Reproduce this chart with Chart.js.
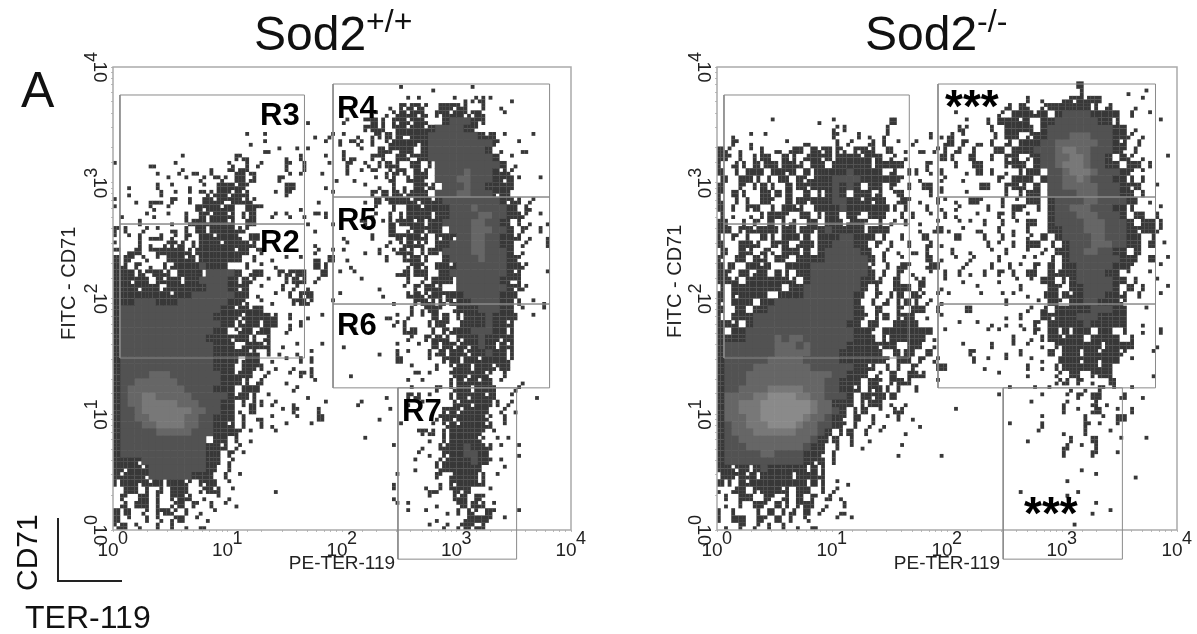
<!DOCTYPE html>
<html>
<head>
<meta charset="utf-8">
<title>Sod2 flow cytometry</title>
<script src="https://cdn.jsdelivr.net/npm/chart.js@4"></script>
<style>
  body { margin: 0; background: #fff; font-family: "Liberation Sans", Arial, sans-serif; color: #111; }
  #page { position: relative; width: 1197px; height: 634px; overflow: hidden; }
  canvas { position: absolute; top: 0; filter: blur(0.35px); }
  .txt { position: absolute; white-space: nowrap; line-height: 1; }
  .title { font-size: 48px; }
  .title sup { font-size: 32px; vertical-align: 18px; line-height: 0; }
  .rlabel { font-size: 31px; font-weight: bold; color: #000; }
  .stars { font-size: 46px; font-weight: bold; color: #000; }
  .ytitle { font-size: 20px; color: #222; transform: rotate(-90deg); transform-origin: left top; }
</style>
</head>
<body>
<div id="page">
  <canvas id="plotWild" style="left:0" width="600" height="634"></canvas>
  <canvas id="plotKnockout" style="left:600px" width="597" height="634"></canvas>

  <div class="txt title" style="left:254px;top:10px">Sod2<sup>+/+</sup></div>
  <div class="txt title" style="left:865px;top:10px">Sod2<sup>-/-</sup></div>
  <div class="txt" style="left:21px;top:65px;font-size:50px">A</div>

  <div class="txt ytitle" style="left:58px;top:340px">FITC - CD71</div>
  <div class="txt ytitle" style="left:664px;top:338px">FITC - CD71</div>

  <div class="txt rlabel" style="left:260px;top:99px">R3</div>
  <div class="txt rlabel" style="left:260px;top:226px">R2</div>
  <div class="txt rlabel" style="left:337px;top:92px">R4</div>
  <div class="txt rlabel" style="left:337px;top:204px">R5</div>
  <div class="txt rlabel" style="left:337px;top:309px">R6</div>
  <div class="txt rlabel" style="left:402px;top:395px">R7</div>

  <div class="txt stars" style="left:945px;top:83px">***</div>
  <div class="txt stars" style="left:1024px;top:490px">***</div>

  <div class="txt" style="left:12px;top:591px;font-size:30px;transform:rotate(-90deg);transform-origin:left top">CD71</div>
  <div class="txt" style="left:25px;top:601px;font-size:32px">TER-119</div>
  <div style="position:absolute;left:57px;top:518px;width:63px;height:62px;border-left:2px solid #222;border-bottom:2px solid #222"></div>
</div>

<script>
// axis decades
const decades = [1, 10, 100, 1000, 10000];
const exponents = ['0', '1', '2', '3', '4'];

// gate edges (same gates on both)
const gateR3 = [[1.15, 440], [47, 5730]];
const gateR2 = [[1.15, 30.6], [47, 440]];
const gateR4 = [[83.5, 753], [6500, 7130]];
const gateR5 = [[83.5, 89.6], [6500, 753]];
const gateR6 = [[83.5, 16.9], [6500, 89.6]];
const gateR7 = [[308, 0.56], [3350, 16.9]];

// Density, 64 x 64 bins, top row first, left half and right half of each plot.
// '.' empty, hex digit = which of the 4 sub-bins hold an event (1 TL, 2 TR, 4 BL, 8 BR),
// g m l n = gray levels of the density shading
const wildLow = [
  "", "", "", "", "", "", "",
  "...........................4....",
  "",
  "..................2..1......4.6.",
  "...................4.1.......2.A",
  ".....................C.1.2.1....",
  ".........2.......7C.....4.5..2..",
  "1....C..2.......9.A.6...7.A...1.",
  "......4..6.C.A..3E7C....9.6..4..",
  ".......2..1.6.36.F5E...7.......4",
  "..4...5.1.8.2.AFFE7.....F5...8..",
  "..4...A.2.2.36EF9FE...2.7.....2.",
  "1..4.CC.7.A.AFE7BFE6........8...",
  "1....9.2...A7FFEF.AF3.....4.....",
  ".4..28.2..5.F9FFE.5F..6.9.8.3A..",
  "...A....4.9FFEFFE.AF.......4..8.",
  "7A..6.1.C.5AFAFFFE6.........4...",
  "1.1A.CE.6.7.FFEFFD.F5...........",
  "1..A.4.67E.5FFFEFFFE........4...",
  "3.CF.3FFFFEAFFFFFEF.B.......6.2.",
  "FA7.9.1AFFE5FFFFFF.A..4.1.1.C.F.",
  "FE.7.4.5EFFFgFFF..A.2.8.....FA..",
  "FFFA6BFE.FFF5ggggF.EF..7EBF..F.2",
  "FF7FF.FEF5FFggggF5F6.2..5FE.6...",
  "FFF7FF5EFFFFFgggF7F.2..A.6.4....",
  "FFFFFFFFEFFggggggFF.4.2.A.7F...2",
  "FFFgggFFFgggggggFF9.2.4..7F6..2.",
  "FggggggggggggggFFEFEF...........",
  "FgggggggggggggFFF7EFFFE.A..4.1..",
  "FggggggggggggggFFAEF5FF.8.5.....",
  "FgggggggggggggFF.9F5EF..6.......",
  "FggggggggggggFFF7FFA.E..........",
  "FgggggggggggggFFF.EFFE.8.2...1..",
  "FgggggggggggggFFFFFE4A.4.8.2....",
  "FgggggggggggggFFF5EF5.4.1.5A....",
  "FgggggggggggggFFF.FFB.8..4.8....",
  "FggggmmmgggggggFFEF5.6..2.7A....",
  "FggmmmmmmggggggFFFA.E...4...1...",
  "FgmmmmmmmmggggFFF.FF5....6......",
  "FgmmllmmmmmgggggFEFA.2.....4....",
  "FgmmlllllmmmgggFF.5EA.6..4...2..",
  "FggmlllllllmmggFF8.F...2.7..A...",
  "FggmmlllllmmggFFF.5.C.1..2..A5..",
  "FgggmmllllmmggFFE.5.A.4.1..2....",
  "FgggggmmmmmgggFFF7.1..2.........",
  "Fgggggggggggg.FF.5.4............",
  "FggggggggggggFFE.6..............",
  "FggggggggggggFF.7.1.............",
  "FFF7gggggggggFF.6...............",
  "F7FFEggggggggF5.5...............",
  "FEFF7ggggggFFF.A.2..............",
  "5FF7FEFAFF6.7F5.1...............",
  ".AF5A.E.FF5.6FE.2.....8.........",
  ".7.AF.5.7FE.8.2.4...............",
  ".E.FF.5.6F.7.A.2.4..............",
  "FA5.6.7F6.5.4.1.................",
  "F.1.A.9.6F.2.4..................",
  "9F.9..5.5.4.C..................."
];
const wildHigh = [
  "", "",
  "........4.........4.............",
  "............2...................",
  ".........12....2.46E2..8........",
  "......8.7EB6.AF7D5.A..4.........",
  "....2.49FE7D.7FEF9BD..2.........",
  "6..3FA.7F6FD..FgggFB............",
  "...7FE.BFEFDFggggF7.............",
  "1.4.65FA7BFFgggggggFE52...2.....",
  ".36.5.9FFF7Fggggggggg7..2.......",
  "4.2..FE3FF.FggggggggF.4..C......",
  "5C..7B.AF6BFgggggggggF.2........",
  "A1.9.5FE.AF.5gggggggggF.4.......",
  "A.2.3.6EB.FE.ggggmgggFE6........",
  ".8..2.95.DF7.gggmmgggF7F2..2....",
  "...1.4.58.F7E.gggmggFFFF........",
  "....7A5F6EFF.gggmmggg7F5........",
  "...4A5BFFD7FDFggggggggFBE.6.....",
  "....2..5.FFEFFFgggmggggF5A4.....",
  "....6.A.5FFF5FFggggmmggFF6.2....",
  "..25.2A6FFE5FFggggmmggF5A.4.8...",
  "...2..A5.6F7FF.gggmmmggF.7.A....",
  "4...5.2B7FFE.7F7ggmmggFFE.4.8...",
  "2.....6.9FE6.FFgggmmggFF.6..A...",
  "1..4.5.9FE.5F7ggggmmgggF.4......",
  "8.....5.AEFA..FggggmgggF7.......",
  ".4.......6F9.FFEgggggggFF6......",
  ".2.....8E5FF.AFggggggggFE...2...",
  "..2......5.6AFF5ggggggF7B.......",
  ".....4..2.7AFE..gggggggFB6......",
  ".....8...DF6EFBFFgggggFF5.......",
  ".......4..7FEA6DFFggggFFA.2.4...",
  ".........A.6F7.8FFFgggFF.1..1...",
  "......C2.6.1A5F.5FFFgFFF5.2.....",
  ".......6A...5F7.AFFFgFFE........",
  ".2......AE5.A.7EFFgggFFA........",
  ".........6.A9FE.7FFgFFBF........",
  "4......2..2.A5F7E7FgF5FE........",
  ".....4.A.1..5E5FF6FFgFFA........",
  ".......A5...1.7F5FFEFFF6........",
  ".........2...5.9FFAFF6F5........",
  ".4........3.1..BF7FF6.A.........",
  ".........1.1...5FEFEF.1..4......",
  ".........2...7.9FFAFF5..6.......",
  "......4..7E.1..5F7FFE5.2...4....",
  "..6......4.1...AEFBFFA.6........",
  "......2.......7F9FFF5.6.4.......",
  ".....4.......6F7FFFF6.A.........",
  "........1...2.9FEFFFE.2.........",
  "..........27E.5FFFF7.1..........",
  "...1........4.5FFFF6.2.1........",
  ".......1...4.AEFFgFFE.1.2.......",
  "..........2.4.7FFggF5...8.......",
  "..........1..6EFFFgF7.1.........",
  "..........4..9FFFFF5..2.........",
  ".......2.....7.EFFFA.2..........",
  ".......4.....8.7FFFE............",
  ".......1...2C6.B7F..2...........",
  ".......4....1..AE5A7............",
  ".......2.1...4..B5FE.1..........",
  ".........1.2..8.5A6.F1..2.......",
  ".............4...EFF7.2.........",
  "............1.6.6F9E............"
];
const knockoutLow = [
  "", "", "", "", "", "", "",
  ".......2......4.1.......F.......",
  "................6A.....A........",
  "..4.2.2.........7..A.4.6.....A.4",
  "..7.8....2..C...A.6..E.5.1.6...8",
  "F6.42.5.C.EF.F6FA9.7FE.A5.4.C.6A",
  "F7.5.5F5.FA.EF7FAFFFE7F.6.4....F",
  "5.EA.FAF5FFE.FF.FFFFF5FFFF...7..",
  "F.A.FF5AF7F.FAFFFFgFFFF.E.AA.9.5",
  "A5.FFA.5AF.F9EFFggggFFFFF7..4..6",
  "F..7.5FA.A5F7FFFgFgF.FF.7.A.AF.4",
  "7.FA..F5FA5.F.5FgF.FF5E.2F...A.1",
  "D.A.5.F7.A5F7FFFggFFE7F5.E7.4.A2",
  "F.5.7F.A.FFE.AFFFgFFFFFFA.5..5.4",
  "A.4.8.5FF7.AF.5FF.F7.FF5.A.5.2.A",
  "F5.A.7.F.5E.AF.FF5EF7.A.6.5.4.2.",
  "FF.7FEFF5FFAF7FgFFFF5FFF....4.E5",
  "5.7.5.FA.FF5F.FFFggFFF.5.A..A5..",
  "F..FFE.A7F.EF5FFgggFF.7.5.A..E.4",
  "A5.FE.E9.FF5F.FgggggF5.6.4.C.5..",
  "7.AF.FE.F7.FFFFggggggF.5.2...F.4",
  "FA5.FFE5.AFFFgggggggg6.A.E7..EF.",
  "F7.F5EF.FA.FFggggggggF.5.7.4.2.A",
  "FFE.FFFFFFE.FgggggggFFE.A5.2E..2",
  "A.FFFFFFF.FFggggggggF.5.AFF.7..4",
  "F.7FFFF.AFFFgggggggF5.7.5F.F6.2.",
  "7.FFF.FFgggggggggggF.A.E.5FA.6.4",
  "F.AF.FFggggggggggggF5.F..7.FF.A.",
  "5.FFFggggggggggggggF7.5F.7F5.4.1",
  "FFE.FgggggggggggggFF.F5.AFFF....",
  "F.FFgggggggggggggggFF7.FFFFFFF.2",
  "FFFFggggmgmmgggggggFFF.5FFFFF.4.",
  "FgggggggmmmgmgggggFFFF7FF.AF5.4.",
  "FgggggggmmmmmggggFFFFFF.A5F5.F..",
  "FggggggmmmmmgggggFFFFFF7.FF.7.6.",
  "FggggmmmmmmmmggggggFFE.A.5.7..AF",
  "FgggmmmmmmmmmmmmggFFF.6.F.AFE...",
  "FgggmmmmmmmmmmmggFFF.F7.7FE...2.",
  "FggmmmmlllllmmmggFFE.7FA.5.A....",
  "FmmmmllnnnnllmmgggF.F7F5F.......",
  "FmmlllnnnnnnnlmmFFF.5FF.4.4.....",
  "FmmlllnnnnnnnlmmgF.5F.2.AE......",
  "FmmmllnnnnnnlmmgF7.F.A.2.5.4....",
  "FgmmlllnnnnlmmggF7.5.6.4....4...",
  "FgmmmllllllmmmgF.5F.A.2...4.....",
  "FggmmmmmmmmmmgF5F.A..4..........",
  "FgggmmmmmmmmgFF.A.2.4....2......",
  "FgggggmmggggFF7.5........4.....4",
  "FgggggggggggF7F.5...............",
  "FF6F5FgFFFFF5FA.................",
  "AF7FE5FFFF5FFFE.................",
  "FA.FEFFFFFFF5FA.2.4.............",
  "4.EF.7FFFE.FF.A.6...............",
  ".5.FF.A7.E.F.7.E.4..............",
  ".4.5.F7.FA.7F5.4.A..............",
  "5.5..A.F.5E.F.6..C..............",
  "5.FF.A7.F.5.9...2.2.............",
  ".4.7.6.5.5.4.C.................."
];
const knockoutHigh = [
  "", "",
  "..................F.............",
  "..................A......4.2....",
  "...........5.4..C7FEF5.....1....",
  "........E.F4.6FFFFFFA.E...4.....",
  ".1.....6.FFFEF.FggggFFFF.A..1...",
  "..2..A.FFFE5.FFggggggFFA.....2..",
  ".A6...5.FFFF.FgggggggggFF.4.....",
  "E.1...A.FF.6FFgggmmmgggFF6.4....",
  "F.7.C.5.E.FFFggmmmmmmggFE.A.....",
  ".E.A..AF.FFFgggmllmmgggF7.5.....",
  "A..F..5.7F.6FggmmllmggF.F6.4..2.",
  ".5.AF...7FF.FggmlllmggFF.FF.5...",
  "..8.F.5.4.5FF.ggmlllmgggF7.1....",
  "..4....7.FFF.FggmmlmgggFFA.5....",
  "....AF..7FE.F.ggmmmmmgggF7F..1..",
  "..2.....5.5FF.ggggmmmgggFF.5....",
  ".4.F7..A.2.FF.FggggmmggggF5.4...",
  ".6...A.2.F7.A.FggmmmgggFFA...2..",
  ".4..1..7.5.1..FgggmmmgggF.F5.5..",
  ".2.1.5.A.2.F5.FggggmmmgggF.FFA..",
  "4.1.C..5.4.5..FFgggmmmgggF7FF6..",
  ".F...5.A.1.6.F.FggggmmgggFF.A...",
  ".....A.1.5.FF.A.FgggmmmggFF.F.1.",
  "A..4..1.5..1.6.FFggmmggFF.F.....",
  ".1.6...5..2.1.A.FgggggggFF5.F.2.",
  "..6...5.A.1.7.F.FFgggggFF7...2..",
  ".A.4.5.7.5.F5.FEFFggggFF.1..1...",
  "..4....4.2.2.FF.5FgggggFF.5..1..",
  "....1.....5...F7.FFggggF.F.5..2.",
  "1...2..2.1.4.AF5FEFgggFFE.A..2..",
  "........5...2.F7.FFggFFF6.......",
  "..A5.......6.E.FFFFFgggFF..2....",
  "........4.5..F7FFFgggFFFF.......",
  ".2..1.4.4.4.7.FFFFFgFFFFF..4....",
  ".....2.1..2.7.F5FAFF.FF.A..4.A..",
  ".........5.8.5FFEFF.FFFF.A......",
  "..1...5..1.1.4.7FFFFF5FFFF...4..",
  "...7....4.5...F.FF5FFEFF6...2...",
  "...A.2..1..2.4.AFF7FFBFF.2......",
  ".....4.....5.4.5FFFFFEF.........",
  ".......1...4...6.F5.7FF.....8...",
  "...............6E.7.4.A5........",
  "........2...1.1..4.4.7.1.2......",
  ".......1.....1..2.7.F5..E..4....",
  "...........2....6...E.4.........",
  ".1..............5.1.E5.2.A......",
  ".............1.....5.2.AF.......",
  "........2....5.....7.1.2........",
  "............2...4..5..2.........",
  "...........4.....5..F...1..2....",
  "................E.2.A...........",
  "................5...7..2........",
  "",
  "..................8.............",
  "....................2.....4.....",
  "................2...............",
  "..........4.......4.............",
  "................2...............",
  "....................2...........",
  "....................4.2.........",
  "",
  ".................2.............."
];

const BINS = 64;
const dotColor = '#383838';
const shades = { g: '#525252', m: '#666666', l: '#787878', n: '#8a8a8a' };

function binValue(pos) {
  return Math.pow(10, 4 * pos / BINS);
}

function buildMarks(lowRows, highRows) {
  const dots = [];
  const cells = { g: [], m: [], l: [], n: [] };
  for (let r = 0; r < BINS; r++) {
    const row = (lowRows[r] || '').padEnd(32, '.').slice(0, 32) + (highRows[r] || '').padEnd(32, '.').slice(0, 32);
    for (let c = 0; c < BINS; c++) {
      const ch = row[c];
      if (ch === '.') continue;
      if (cells[ch]) {
        cells[ch].push({ x: binValue(c + 0.5), y: binValue(BINS - r - 0.5) });
        continue;
      }
      const bits = parseInt(ch, 16);
      if (bits & 1) dots.push({ x: binValue(c + 0.25), y: binValue(BINS - r - 0.25) });
      if (bits & 2) dots.push({ x: binValue(c + 0.75), y: binValue(BINS - r - 0.25) });
      if (bits & 4) dots.push({ x: binValue(c + 0.25), y: binValue(BINS - r - 0.75) });
      if (bits & 8) dots.push({ x: binValue(c + 0.75), y: binValue(BINS - r - 0.75) });
    }
  }
  return { dots, cells };
}

function gateDataset(gate, color) {
  const [[x0, y0], [x1, y1]] = gate;
  return {
    data: [{ x: x0, y: y0 }, { x: x1, y: y0 }, { x: x1, y: y1 }, { x: x0, y: y1 }, { x: x0, y: y0 }],
    showLine: true, pointRadius: 0, borderColor: color, borderWidth: 1, clip: false
  };
}

// exponents of the decade labels, placed from the library's own scales
const exponentPlugin = {
  id: 'exponents',
  afterDraw(chart) {
    const ctx = chart.ctx;
    const { x, y } = chart.scales;
    ctx.save();
    ctx.fillStyle = '#222';
    ctx.font = '18px "Liberation Sans"';
    ctx.textAlign = 'center';
    ctx.textBaseline = 'middle';
    decades.forEach((v, i) => {
      ctx.fillText(exponents[i], x.getPixelForValue(v) + 10, y.bottom + 9);
      ctx.save();
      ctx.translate(x.left - 21, y.getPixelForValue(v) - 10);
      ctx.rotate(-Math.PI / 2);
      ctx.fillText(exponents[i], 0, 0);
      ctx.restore();
    });
    ctx.restore();
  }
};

function renderPlot(id, lowRows, highRows, paddingLeft, paddingRight) {
  const marks = buildMarks(lowRows, highRows);
  const axisTicks = {
    autoSkip: false,
    color: '#222',
    font: { size: 19, family: '"Liberation Sans"' },
    callback: v => decades.includes(v) ? '10' : ''
  };
  const axisGrid = { drawOnChartArea: false, tickLength: 2, color: '#bbb' };
  const datasets = [
    gateDataset(gateR3, '#8a8a8a'),
    gateDataset(gateR2, '#8a8a8a'),
    gateDataset(gateR4, '#8a8a8a'),
    gateDataset(gateR5, '#8a8a8a'),
    gateDataset(gateR6, '#8a8a8a'),
    gateDataset(gateR7, '#8a8a8a'),
    {
      data: [{ x: 1, y: 1 }, { x: 10000, y: 1 }, { x: 10000, y: 10000 }, { x: 1, y: 10000 }, { x: 1, y: 1 }],
      showLine: true, pointRadius: 0, borderColor: '#ababab', borderWidth: 1.5, clip: false
    },
    { data: marks.dots, backgroundColor: dotColor, borderWidth: 0, pointStyle: 'rect', pointRadius: 2.7 }
  ];
  Object.keys(shades).forEach(k => {
    datasets.push({ data: marks.cells[k], backgroundColor: shades[k], borderWidth: 0, pointStyle: 'rect', pointRadius: 5.5 });
  });
  return new Chart(document.getElementById(id), {
    type: 'scatter',
    data: { datasets: datasets },
    plugins: [exponentPlugin],
    options: {
      responsive: false,
      animation: false,
      events: [],
      layout: { padding: { left: paddingLeft, right: paddingRight, top: 67, bottom: 59 } },
      plugins: { legend: { display: false }, tooltip: { enabled: false } },
      scales: {
        x: {
          type: 'logarithmic', min: 1, max: 10000,
          afterFit: s => { s.height = 45; },
          grid: axisGrid,
          border: { display: false },
          ticks: Object.assign({}, axisTicks, { maxRotation: 0, minRotation: 0, padding: 7, labelOffset: -5 }),
          title: { display: true, text: 'PE-TER-119', color: '#222', font: { size: 19, family: '"Liberation Sans"' }, padding: 0 }
        },
        y: {
          type: 'logarithmic', min: 1, max: 10000,
          afterFit: s => { s.width = 40; },
          grid: axisGrid,
          border: { display: false },
          ticks: Object.assign({}, axisTicks, { minRotation: -90, maxRotation: -90, crossAlign: 'center', padding: 1, labelOffset: 5 })
        }
      }
    }
  });
}

renderPlot('plotWild', wildLow, wildHigh, 73, 29);
renderPlot('plotKnockout', knockoutLow, knockoutHigh, 77, 20);
</script>
</body>
</html>
